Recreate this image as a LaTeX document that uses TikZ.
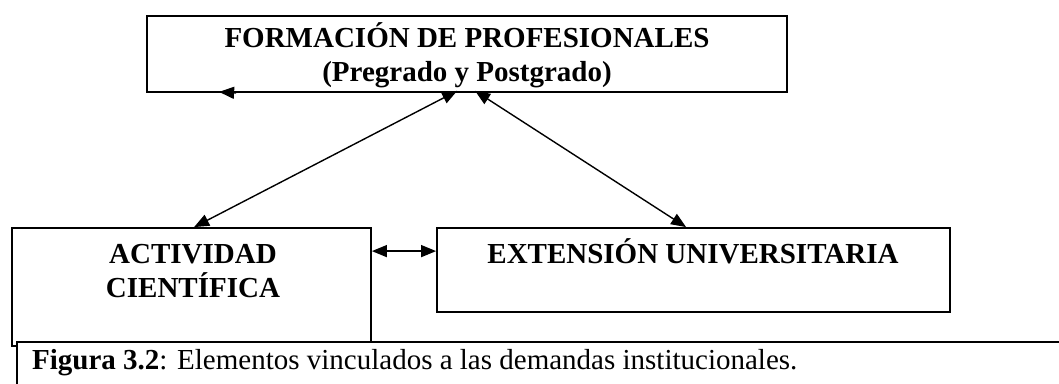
\documentclass[tikz,border=0pt]{standalone}
\usepackage{fontspec}
\setmainfont{Liberation Serif}
\usetikzlibrary{calc,arrows.meta,positioning}

\tikzset{
  box/.style={draw, line width=1.8pt, inner sep=0pt, fill=white},
  heading/.style={font=\fontsize{29}{34}\selectfont\bfseries, inner sep=0pt, anchor=base},
  link/.style={line width=1.4pt, {Triangle[length=15pt,width=12pt]}-{Triangle[length=15pt,width=12pt]}},
}

\begin{document}
\begin{tikzpicture}[x=1pt,y=-1pt]
    \useasboundingbox (0,0) rectangle (1059,383);

    % Formacion
    \node[box, minimum width=640pt, minimum height=76pt] (form) at (467,54) {};
    \node[heading] (formtop) at (467,47) {FORMACIÓN DE PROFESIONALES};
    \node[heading] (formsub) at (467,81) {(Pregrado y Postgrado)};

    % Actividad cientifica
    \node[box, minimum width=359pt, minimum height=118pt] (act) at (191.5,287) {};
    \node[heading] (acttop) at (193,263) {ACTIVIDAD};
    \node[heading] (actsub) at (193,297) {CIENTÍFICA};

    % Extension universitaria
    \node[box, minimum width=513pt, minimum height=84pt] (ext) at (693.5,270) {};
    \node[heading] (exttxt) at (693,263) {EXTENSIÓN UNIVERSITARIA};

    % Arrow ends
    \coordinate (formL) at ($(form.south west)+(311,-2)$);
    \coordinate (formR) at ($(form.south west)+(329,-2)$);
    \coordinate (actT) at ($(act.north west)+(183,0)$);
    \coordinate (extT) at ($(ext.north west)+(250,0)$);

    % Links
    \draw[link] (formL) -- (actT);
    \draw[link] (formR) -- (extT);
    \draw[link] ($(act.north east)+(0,24)$) -- ($(ext.north west)+(0,24)$);

    % Loose arrowhead
    \draw[line width=1.4pt, -{Triangle[length=15pt,width=12pt]}] ($(form.south west)+(90,0)$) -- ($(form.south west)+(73,-1)$);

    % Caption
    \node[box, anchor=north west, minimum width=1100pt, minimum height=60pt] (capbox) at (16,341) {};
    \node[font=\fontsize{29}{34}\selectfont, inner sep=0pt, anchor=base west] (captxt) at (32,369) {\textbf{Figura 3.2}: Elementos vinculados a las demandas institucionales.};

\end{tikzpicture}
\end{document}
